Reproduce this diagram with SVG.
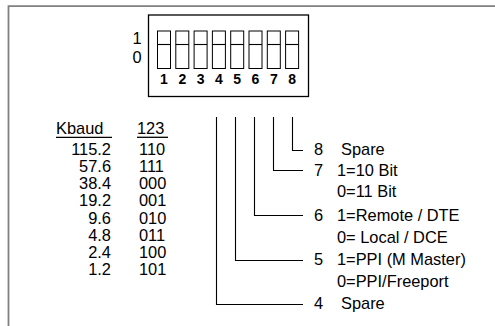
<svg xmlns="http://www.w3.org/2000/svg" width="495" height="326" viewBox="0 0 495 326">
<style>
text{font-family:"Liberation Sans",Arial,sans-serif;font-size:16.4px;fill:#000}
.b{font-weight:bold;font-size:14px;text-anchor:middle}
.r{text-anchor:end}
.sw{fill:#fff;stroke:#000;stroke-width:1}
.ln{fill:none;stroke:#000;stroke-width:1.1}
.ul{stroke:#000;stroke-width:1.3}
</style>
<rect width="495" height="326" fill="#fff"/>
<g id="frame"><path d="M8.5 326V6.2H495" fill="none" stroke="#808080" stroke-width="1.8"/></g>
<g id="dipswitch">
<rect x="148.5" y="15" width="160" height="81.5" fill="#fff" stroke="#000" stroke-width="1.3"/>
<text x="132.5" y="43.5">1</text><text x="132.5" y="62.5">0</text>
<g id="sw1"><rect class="sw" x="157.5" y="31" width="13" height="37.5"/><path class="ln" d="M157.5 44.5h13"/><text class="b" x="164" y="84">1</text></g>
<g id="sw2"><rect class="sw" x="175.8" y="31" width="13" height="37.5"/><path class="ln" d="M175.8 44.5h13"/><text class="b" x="182.3" y="84">2</text></g>
<g id="sw3"><rect class="sw" x="194.1" y="31" width="13" height="37.5"/><path class="ln" d="M194.1 44.5h13"/><text class="b" x="200.6" y="84">3</text></g>
<g id="sw4"><rect class="sw" x="212.4" y="31" width="13" height="37.5"/><path class="ln" d="M212.4 44.5h13"/><text class="b" x="218.9" y="84">4</text></g>
<g id="sw5"><rect class="sw" x="230.7" y="31" width="13" height="37.5"/><path class="ln" d="M230.7 44.5h13"/><text class="b" x="237.2" y="84">5</text></g>
<g id="sw6"><rect class="sw" x="249" y="31" width="13" height="37.5"/><path class="ln" d="M249 44.5h13"/><text class="b" x="255.5" y="84">6</text></g>
<g id="sw7"><rect class="sw" x="267.3" y="31" width="13" height="37.5"/><path class="ln" d="M267.3 44.5h13"/><text class="b" x="273.8" y="84">7</text></g>
<g id="sw8"><rect class="sw" x="285.6" y="31" width="13" height="37.5"/><path class="ln" d="M285.6 44.5h13"/><text class="b" x="292.1" y="84">8</text></g>
</g>
<g id="table">
<text x="56" y="134">Kbaud</text><path class="ul" d="M56 137.3h56"/>
<text x="137" y="134">123</text><path class="ul" d="M137 137.3h31"/>
<text class="r" x="111" y="154.5">115.2</text><text x="139" y="154.5">110</text>
<text class="r" x="111" y="171.7">57.6</text><text x="139" y="171.7">111</text>
<text class="r" x="111" y="189">38.4</text><text x="139" y="189">000</text>
<text class="r" x="111" y="206.2">19.2</text><text x="139" y="206.2">001</text>
<text class="r" x="111" y="223.5">9.6</text><text x="139" y="223.5">010</text>
<text class="r" x="111" y="240.7">4.8</text><text x="139" y="240.7">011</text>
<text class="r" x="111" y="258">2.4</text><text x="139" y="258">100</text>
<text class="r" x="111" y="275.2">1.2</text><text x="139" y="275.2">101</text>
</g>
<g id="connectors">
<path class="ln" d="M292.5 117V150.5H303"/>
<path class="ln" d="M273.5 117V170.5H303"/>
<path class="ln" d="M254.5 117V215.5H303"/>
<path class="ln" d="M235.5 117V260.5H303"/>
<path class="ln" d="M216.5 117V304.5H303"/>
</g>
<g id="labels">
<g id="l8"><text x="314" y="155">8</text><text x="341" y="155">Spare</text></g>
<g id="l7"><text x="314" y="176">7</text><text x="337" y="176">1=10 Bit</text><text x="337" y="197">0=11 Bit</text></g>
<g id="l6"><text x="314" y="221">6</text><text x="337" y="221">1=Remote / DTE</text><text x="337" y="243">0= Local / DCE</text></g>
<g id="l5"><text x="314" y="265">5</text><text x="337" y="265">1=PPI (M Master)</text><text x="337" y="287">0=PPI/Freeport</text></g>
<g id="l4"><text x="314" y="309">4</text><text x="341" y="309">Spare</text></g>
</g>
</svg>
